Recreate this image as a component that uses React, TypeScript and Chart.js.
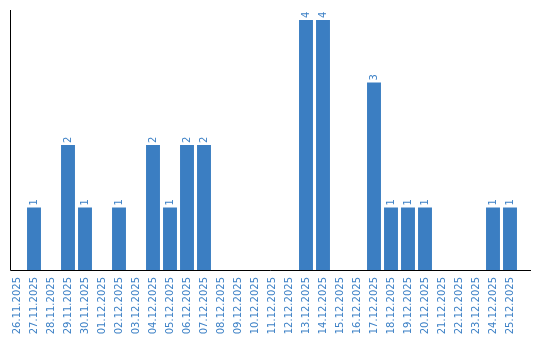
import React, { useEffect, useRef } from "react";
import { Chart, registerables } from "chart.js";

Chart.register(...registerables);

const dates = [
  "26.11.2025", "27.11.2025", "28.11.2025", "29.11.2025", "30.11.2025",
  "01.12.2025", "02.12.2025", "03.12.2025", "04.12.2025", "05.12.2025",
  "06.12.2025", "07.12.2025", "08.12.2025", "09.12.2025", "10.12.2025",
  "11.12.2025", "12.12.2025", "13.12.2025", "14.12.2025", "15.12.2025",
  "16.12.2025", "17.12.2025", "18.12.2025", "19.12.2025", "20.12.2025",
  "21.12.2025", "22.12.2025", "23.12.2025", "24.12.2025", "25.12.2025",
];

const counts = [
  0, 1, 0, 2, 1,
  0, 1, 0, 2, 1,
  2, 2, 0, 0, 0,
  0, 0, 4, 4, 0,
  0, 3, 1, 1, 1,
  0, 0, 0, 1, 1,
];

const BLUE = "#3b7ec2";
const TEXT_BLUE = "#3d81c6";
const FONT = "DejaVu Sans";

const axisLines = {
  id: "axisLines",
  afterDraw(chart: any) {
    const { ctx, chartArea } = chart;
    ctx.save();
    ctx.strokeStyle = "#000";
    ctx.lineWidth = 1;
    ctx.beginPath();
    ctx.moveTo(10.5, 10);
    ctx.lineTo(10.5, chartArea.bottom + 0.5);
    ctx.lineTo(531, chartArea.bottom + 0.5);
    ctx.stroke();
    ctx.restore();
  },
};

const barLabels = {
  id: "barLabels",
  afterDatasetsDraw(chart: any) {
    const { ctx } = chart;
    const meta = chart.getDatasetMeta(0);
    const data = chart.data.datasets[0].data as number[];
    ctx.save();
    ctx.fillStyle = TEXT_BLUE;
    ctx.font = `10px '${FONT}'`;
    ctx.textAlign = "left";
    ctx.textBaseline = "middle";
    meta.data.forEach((bar: any, i: number) => {
      const v = data[i];
      if (!v) return;
      ctx.save();
      ctx.translate(bar.x, bar.y - 2);
      ctx.rotate(-Math.PI / 2);
      ctx.fillText(String(v), 0, 0);
      ctx.restore();
    });
    ctx.restore();
  },
};

export default function App() {
  const ref = useRef<HTMLCanvasElement>(null);
  useEffect(() => {
    document.body.style.margin = "0";
    const chart = new Chart(ref.current!, {
      type: "bar",
      data: {
        labels: dates,
        datasets: [
          {
            data: counts,
            backgroundColor: BLUE,
            categoryPercentage: 1,
            barPercentage: 0.82,
          },
        ],
      },
      options: {
        responsive: false,
        animation: false,
        layout: { padding: { left: 8.5, right: 21.5, top: 10, bottom: 0 } },
        plugins: { legend: { display: false }, tooltip: { enabled: false } },
        scales: {
          x: {
            grid: { display: false, drawTicks: false },
            border: { display: false },
            ticks: {
              autoSkip: false,
              maxRotation: 90,
              minRotation: 90,
              padding: 7,
              color: TEXT_BLUE,
              font: { family: FONT, size: 10 },
            },
            afterFit(scale: any) {
              scale.height = 70;
            },
          },
          y: {
            display: false,
            min: 0,
            max: 4.16,
          },
        },
      },
      plugins: [axisLines, barLabels],
    });
    return () => chart.destroy();
  }, []);
  return (
    <canvas
      ref={ref}
      width={540}
      height={340}
      style={{ display: "block", width: 540, height: 340 }}
    />
  );
}
